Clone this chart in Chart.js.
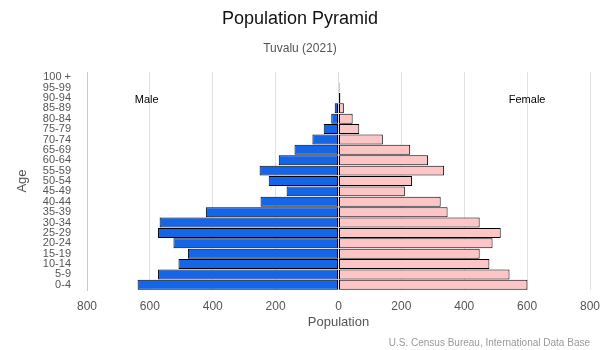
<!DOCTYPE html>
<html>
<head>
<meta charset="utf-8">
<script src="https://cdn.jsdelivr.net/npm/chart.js@4/dist/chart.umd.min.js"></script>
<style>
html,body{margin:0;padding:0;background:#fff;}
#wrap{width:600px;height:350px;}
</style>
</head>
<body>
<div id="wrap"><canvas id="c" width="600" height="350"></canvas></div>
<script>
const ageGroups = ["100 +","95-99","90-94","85-89","80-84","75-79","70-74","65-69","60-64","55-59","50-54","45-49","40-44","35-39","30-34","25-29","20-24","15-19","10-14","5-9","0-4"];
const maleValues = [0,1,2,12,23,47,83,140,190,251,222,165,248,422,569,574,525,479,509,574,639];
const femaleValues = [1,3,6,17,45,66,141,228,285,336,234,211,325,347,449,516,490,449,480,544,601];
const xTicks = [-800,-600,-400,-200,0,200,400,600,800];

const fontFam = "'Liberation Sans', Arial, Helvetica, sans-serif";

const annotate = {
  id: 'annotate',
  afterDatasetsDraw(chart) {
    const {ctx, scales} = chart;
    ctx.save();
    ctx.font = "11px " + fontFam;
    ctx.fillStyle = "#000";
    ctx.textAlign = "center";
    ctx.textBaseline = "middle";
    const yy = scales.y.getPixelForValue(2) + 2;
    ctx.fillText("Male", scales.x.getPixelForValue(-610), yy);
    ctx.fillText("Female", scales.x.getPixelForValue(600), yy);
    ctx.restore();
  },
  afterDraw(chart) {
    const {ctx} = chart;
    ctx.save();
    ctx.font = "10px " + fontFam;
    ctx.fillStyle = "#9a9a9a";
    ctx.textAlign = "right";
    ctx.textBaseline = "middle";
    ctx.fillText("U.S. Census Bureau, International Data Base", 590, 343);
    ctx.restore();
  }
};

new Chart(document.getElementById('c'), {
  type: 'bar',
  data: {
    labels: ageGroups,
    datasets: [
      {label: 'Male', data: maleValues.map(v => -v), backgroundColor: '#1565e8', borderColor: '#000', borderWidth: 1, borderSkipped: false},
      {label: 'Female', data: femaleValues, backgroundColor: '#fdc5c5', borderColor: '#000', borderWidth: 1, borderSkipped: false}
    ]
  },
  options: {
    indexAxis: 'y',
    responsive: false,
    animation: false,
    layout: {padding: {left: 10, right: 10, top: 0, bottom: 16}},
    datasets: {bar: {barPercentage: 0.96, categoryPercentage: 1.0}},
    plugins: {
      legend: {display: false},
      tooltip: {enabled: false},
      title: {display: true, text: 'Population Pyramid', color: '#111', font: {family: fontFam, size: 18, weight: 'normal'}, padding: {top: 8, bottom: 8}},
      subtitle: {display: true, text: 'Tuvalu (2021)', color: '#555', font: {family: fontFam, size: 12, weight: 'normal'}, padding: {top: 4, bottom: 16}}
    },
    scales: {
      x: {
        stacked: true,
        min: -800, max: 800,
        afterBuildTicks(scale) { scale.ticks = xTicks.map(v => ({value: v})); },
        afterFit(scale) { scale.height = 44; scale.paddingRight = 0; scale.paddingLeft = 0; },
        ticks: {color: '#555', font: {family: fontFam, size: 12}, padding: 9, callback: v => String(Math.abs(v))},
        grid: {color: '#e2e2e2', drawTicks: false},
        border: {display: false},
        title: {display: true, text: 'Population', color: '#555', font: {family: fontFam, size: 13}, padding: {top: 8}}
      },
      y: {
        stacked: true,
        afterFit(scale) { scale.width = 77; scale.paddingTop = 0; scale.paddingBottom = 0; },
        ticks: {color: '#555', font: {family: fontFam, size: 11}, padding: 8, autoSkip: false},
        grid: {display: false},
        border: {display: true, color: '#c9c9d6'},
        title: {display: true, text: 'Age', color: '#555', font: {family: fontFam, size: 13}, padding: {top: 5, bottom: 0}}
      }
    }
  },
  plugins: [annotate]
});
</script>
</body>
</html>
